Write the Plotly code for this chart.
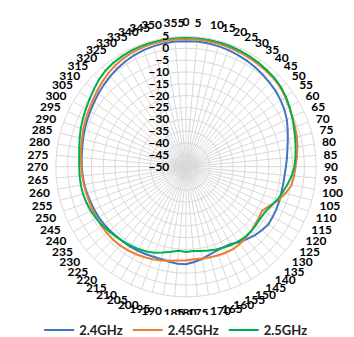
import plotly.graph_objects as go

angles = list(range(0, 360, 5))
angle_labels = [str(a) for a in angles]

s24 = [3.0, 3.0, 2.9, 2.7, 2.4, 2.0, 1.6, 1.1, 0.6, 0.0,
       -0.5, -1.2, -2.0, -3.0, -4.3, -5.5, -6.5, -7.2, -7.8, -8.2,
       -8.3, -8.3, -8.0, -7.8, -7.7, -7.5, -8.2, -9.0, -10.0, -11.0,
       -12.3, -12.5, -12.2, -11.5, -10.5, -9.6, -8.8, -8.8, -9.2, -9.5,
       -9.5, -9.3, -9.0, -8.8, -8.6, -8.4, -8.0, -7.7, -7.4, -7.2,
       -7.0, -6.7, -6.4, -6.2, -6.0, -5.8, -5.5, -5.0, -4.4, -3.9,
       -3.3, -2.6, -1.8, -1.0, -0.2, 0.6, 1.3, 1.9, 2.4, 2.7,
       2.9, 3.0]

s245 = [3.9, 3.9, 3.8, 3.7, 3.5, 3.3, 3.1, 2.9, 2.7, 2.5,
        2.0, 1.2, 0.3, -0.5, -1.0, -1.5, -2.2, -3.0, -3.7, -4.2,
        -4.8, -6.5, -8.5, -11.0, -12.9, -12.4, -12.0, -11.3, -10.8, -10.2,
        -9.9, -10.0, -10.2, -10.4, -10.6, -10.7, -10.5, -10.2, -9.6, -9.0,
        -8.4, -7.9, -7.4, -7.0, -6.6, -6.4, -6.4, -6.4, -6.5, -6.5,
        -6.5, -6.4, -6.2, -6.0, -5.8, -5.5, -5.0, -4.5, -3.8, -3.2,
        -2.5, -1.7, -0.8, 0.3, 1.3, 2.1, 2.8, 3.3, 3.6, 3.8,
        3.9, 3.9]

s25 = [4.6, 4.6, 4.5, 4.4, 4.2, 4.0, 3.8, 3.5, 3.2, 2.9,
       2.3, 1.5, 0.5, -0.5, -1.5, -2.3, -3.0, -3.6, -4.2, -5.2,
       -6.5, -7.8, -9.0, -10.5, -11.5, -11.8, -11.5, -11.2, -11.2, -11.5,
       -11.8, -12.3, -12.8, -13.3, -13.8, -14.2, -14.0, -14.3, -13.5, -12.5,
       -11.3, -10.5, -9.8, -9.3, -8.8, -8.2, -7.5, -6.8, -6.2, -5.7,
       -5.3, -5.0, -4.9, -4.9, -4.9, -4.7, -4.2, -3.5, -2.7, -2.0,
       -1.2, -0.3, 0.8, 2.0, 2.9, 3.5, 3.9, 4.2, 4.4, 4.5,
       4.6, 4.6]

series = [("2.4GHz", s24, "#4472C4"),
          ("2.45GHz", s245, "#ED7D31"),
          ("2.5GHz", s25, "#00B050")]

fig = go.Figure()
for name, vals, color in series:
    fig.add_trace(go.Scatterpolar(
        r=vals + vals[:1], theta=angles + angles[:1], mode="lines", name=name,
        line=dict(color=color, width=2)))

tickfont = dict(family="Lato", size=12, color="black", weight="bold")
grid = "#D9D9D9"

W, H = 354, 337
fig.update_layout(
    width=W, height=H,
    margin=dict(l=0, r=0, t=0, b=0),
    paper_bgcolor="white", plot_bgcolor="white",
    showlegend=True,
    legend=dict(orientation="h", x=0.475, xanchor="center", y=0.024, yanchor="middle",
                font=dict(family="Lato", size=13, color="#222", weight="bold"),
                itemwidth=30),
    polar=dict(
        domain=dict(x=[45/354, 311/354], y=[42/337, 308/337]),
        bgcolor="white",
        angularaxis=dict(rotation=90, direction="clockwise",
                         tickmode="array", tickvals=angles, ticktext=angle_labels,
                         ticks="outside", ticklen=5, tickcolor="rgba(0,0,0,0)",
                         showgrid=True, gridcolor=grid, gridwidth=1,
                         showline=True, linecolor=grid, linewidth=1,
                         tickfont=tickfont),
        radialaxis=dict(range=[-50, 5], dtick=5, tick0=0, angle=90, tickangle=90,
                        side="counterclockwise",
                        ticks="outside", ticklen=12, tickcolor="rgba(0,0,0,0)",
                        showline=False, gridcolor=grid, gridwidth=1,
                        tickfont=tickfont),
    ),
)

fig.write_html("out.html")
